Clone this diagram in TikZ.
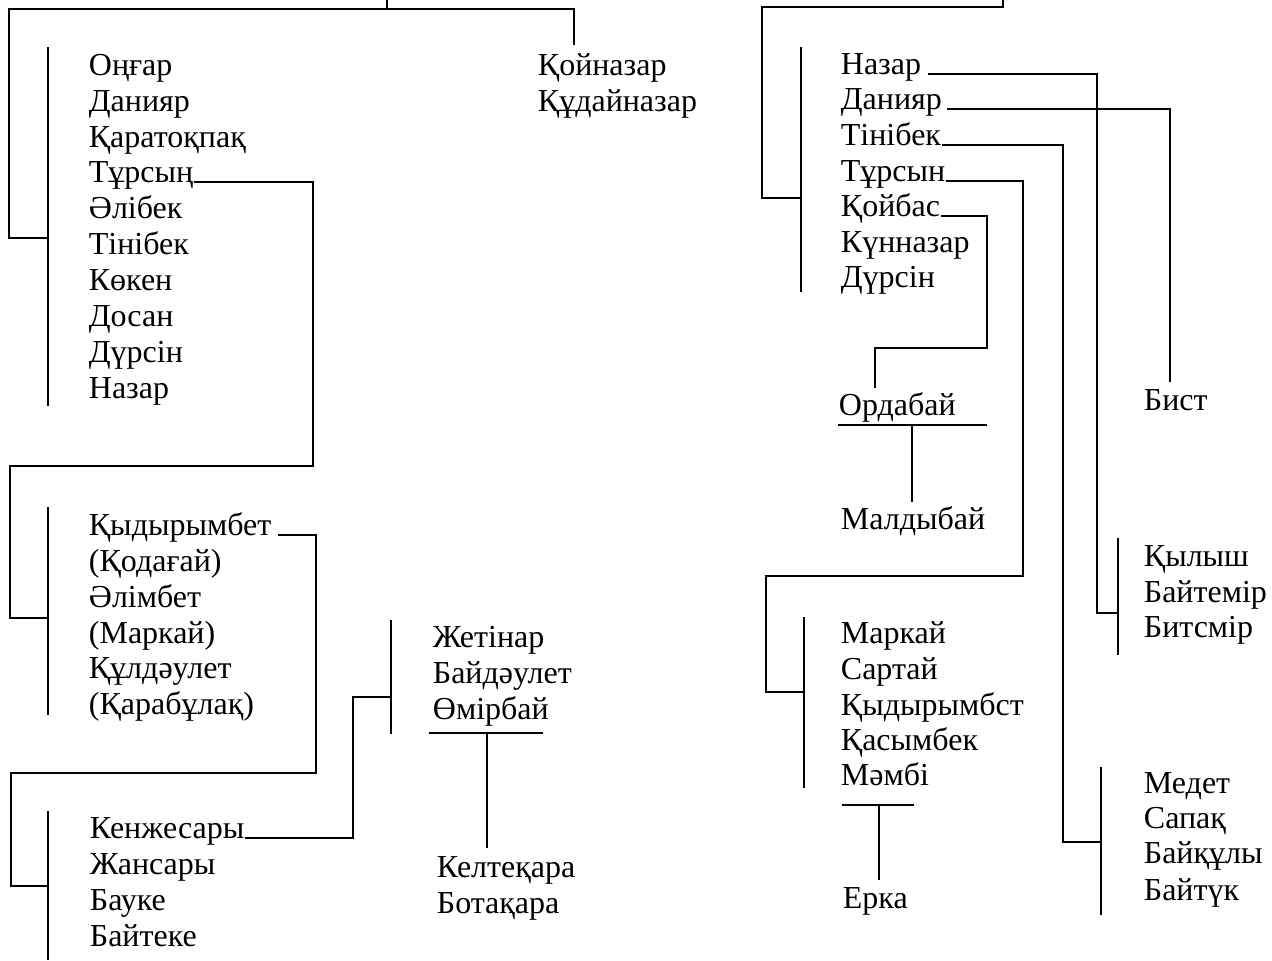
\documentclass[tikz,border=0pt]{standalone}
\usepackage{fontspec}
\setmainfont{Liberation Serif}

\begin{document}
\begin{tikzpicture}[x=0.5pt,y=-0.5pt,line width=0.9pt,
	kin/.style={anchor=base west, inner sep=0pt, font=\fontsize{16}{19}\selectfont}]
	\useasboundingbox (0,0) rectangle (1272,960);
	% left family
	\node[kin] (ongar) at (88,75) {Оңғар};
	\node[kin] (daniyarA) at (88,111) {Данияр};
	\node[kin] (karatokpak) at (88,147) {Қаратоқпақ};
	\node[kin] (tursynA) at (88,182) {Тұрсың};
	\node[kin] (alibek) at (88,218) {Әлібек};
	\node[kin] (tinibekA) at (88,254) {Тінібек};
	\node[kin] (koken) at (88,290) {Көкен};
	\node[kin] (dosan) at (88,326) {Досан};
	\node[kin] (dursinA) at (88,362) {Дүрсін};
	\node[kin] (nazarA) at (88,398) {Назар};
	\node[kin] (koinazar) at (537,75) {Қойназар};
	\node[kin] (kudainazar) at (537,111) {Құдайназар};
	\coordinate (jA) at (48,238);
	\draw (387,0) -- (387,9);
	\draw (574,45) -- (574,9) -| (9,238) -- (jA);
	\draw (48,47) -- (48,406);

	\node[kin] (kydyrymbetA) at (88,535) {Қыдырымбет};
	\node[kin] (kodagai) at (88,571) {(Қодағай)};
	\node[kin] (alimbet) at (88,607) {Әлімбет};
	\node[kin] (markaiA) at (88,643) {(Маркай)};
	\node[kin] (kuldaulet) at (88,678) {Құлдәулет};
	\node[kin] (karabulak) at (88,714) {(Қарабұлақ)};
	\coordinate (jB) at (48,618);
	\draw (tursynA.base east) -| (313,466) -| (10,618) -- (jB);
	\draw (48,507) -- (48,715);

	\node[kin] (kenzhesary) at (89,838) {Кенжесары};
	\node[kin] (zhansary) at (89,874) {Жансары};
	\node[kin] (bauke) at (89,910) {Бауке};
	\node[kin] (baiteke) at (89,946) {Байтеке};
	\coordinate (jC) at (48,886);
	\draw ([xshift=3pt]kydyrymbetA.base east) -| (316,773) -| (11,886) -- (jC);
	\draw (48,811) -- (48,960);

	\node[kin] (zhetinar) at (432,647) {Жетінар};
	\node[kin] (baidaulet) at (432,683) {Байдәулет};
	\node[kin] (omirbai) at (432,719) {Өмірбай};
	\node[kin] (keltekara) at (436,877) {Келтеқара};
	\node[kin] (botakara) at (436,913) {Ботақара};
	\coordinate (jD) at (391,697);
	\draw (kenzhesary.base east) -| (353,697) -- (jD);
	\draw (391,620) -- (391,734);
	\draw (429,733) -- (543,733);
	\draw (487,733) -- (487,848);

	% right family
	\node[kin] (nazarB) at (840,74) {Назар};
	\node[kin] (daniyarB) at (840,109) {Данияр};
	\node[kin] (tinibekB) at (840,145) {Тінібек};
	\node[kin] (tursynB) at (840,181) {Тұрсын};
	\node[kin] (koibas) at (840,216) {Қойбас};
	\node[kin] (kunnazar) at (840,252) {Күнназар};
	\node[kin] (dursinB) at (840,287) {Дүрсін};
	\coordinate (jE) at (801,198);
	\draw (1003,0) -- (1003,7) -| (762,198) -- (jE);
	\draw (801,47) -- (801,292);

	\node[kin] (ordabai) at (838,415) {Ордабай};
	\node[kin] (maldybai) at (840,529) {Малдыбай};
	\draw (koibas.base east) -| (987,348) -| (875,388);
	\draw (838,425) -- (987,425);
	\draw (912,425) -- (912,502);

	\node[kin] (bist) at (1143,410) {Бист};
	\draw ([xshift=2pt]daniyarB.base east) -| (1170,382);

	\node[kin] (kylysh) at (1143,566) {Қылыш};
	\node[kin] (baitemir) at (1143,602) {Байтемір};
	\node[kin] (bitsmir) at (1143,637) {Битсмір};
	\coordinate (jF) at (1118,613);
	\draw ([xshift=3pt]nazarB.base east) -| (1097,613) -- (jF);
	\draw (1118,538) -- (1118,655);

	\node[kin] (markaiB) at (840,643) {Маркай};
	\node[kin] (sartai) at (840,679) {Сартай};
	\node[kin] (kydyrymbetB) at (840,715) {Қыдырымбст};
	\node[kin] (kasymbek) at (840,750) {Қасымбек};
	\node[kin] (mambi) at (840,785) {Мәмбі};
	\node[kin] (erka) at (842,908) {Ерка};
	\coordinate (jH) at (804,692);
	\draw (tursynB.base east) -| (1023,576) -| (766,692) -- (jH);
	\draw (804,617) -- (804,788);
	\draw (842,805) -- (914,805);
	\draw (879,805) -- (879,880);

	\node[kin] (medet) at (1143,793) {Медет};
	\node[kin] (sapak) at (1143,828) {Сапақ};
	\node[kin] (baikuly) at (1143,863) {Байқұлы};
	\node[kin] (baituk) at (1143,900) {Байтүк};
	\coordinate (jG) at (1101,842);
	\draw (tinibekB.base east) -| (1063,842) -- (jG);
	\draw (1101,767) -- (1101,915);
\end{tikzpicture}
\end{document}
